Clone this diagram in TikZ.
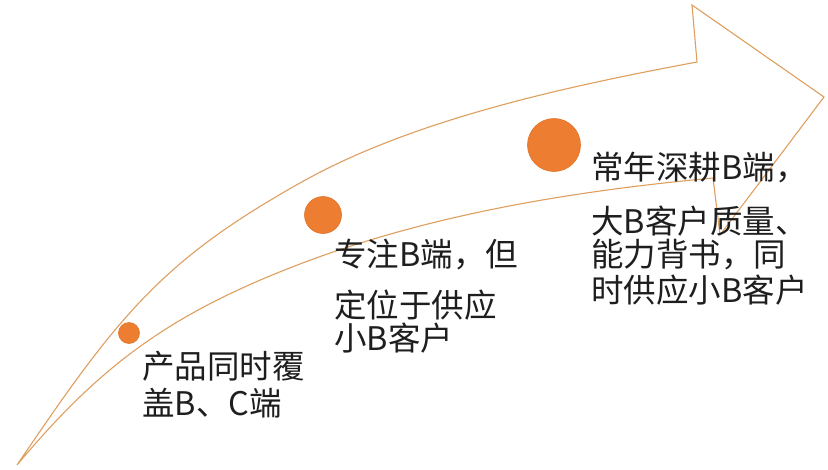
\documentclass[tikz,border=0pt]{standalone}
\usepackage{fontspec}
\newfontfamily\cjk{Noto Sans CJK SC}
\definecolor{arrowline}{HTML}{DE9E5E}
\definecolor{dot}{HTML}{ED7D31}
\definecolor{dotedge}{HTML}{E07428}
\definecolor{txt}{HTML}{1E1E1E}
\tikzset{
  outline/.style={draw=arrowline, line width=1.1pt, line join=miter},
  dotnode/.style={circle, fill=dot, draw=dotedge, line width=0.6pt, inner sep=0pt},
  label/.style={anchor=west, inner sep=0pt, text=txt, font=\cjk\fontsize{32.5}{32.5}\selectfont}
}
\begin{document}
\begin{tikzpicture}[x=1pt, y=-1pt]
\useasboundingbox (0,0) rectangle (828,469);
% curved arrow outline
\coordinate (tail) at (17,465);
\coordinate (um) at (300,183);
\coordinate (un) at (697,62);
\coordinate (ht) at (692,5);
\coordinate (tip) at (824,97);
\coordinate (hb) at (720,235);
\coordinate (ln) at (713,178);
\coordinate (lm) at (300,264);
\draw[outline]
  (tail) .. controls (118,316) and (161,261) .. (um)
         .. controls (413,119) and (569,86) .. (un)
  -- (ht) -- (tip) -- (hb) -- (ln)
         .. controls (574,191) and (431,214) .. (lm)
         .. controls (169,314) and (100,366) .. (tail)
  -- cycle;
% dots
\node[dotnode, minimum size=21pt] (c1) at (129,333) {};
\node[dotnode, minimum size=37pt] (c2) at (323,215) {};
\node[dotnode, minimum size=53pt] (c3) at (554,145) {};
% texts
\node[label] (t1a) at (142,366) {产品同时覆};
\node[label] (t1b) at (142,403) {盖B、C端};
\node[label] (t2a) at (334,255) {专注B端，但};
\node[label] (t2b) at (334,305) {定位于供应};
\node[label] (t2c) at (334,338) {小B客户};
\node[label] (t3a) at (591,168) {常年深耕B端，};
\node[label] (t3b) at (591,221) {大B客户质量、};
\node[label] (t3c) at (591,255) {能力背书，同};
\node[label] (t3d) at (591,290) {时供应小B客户};
\end{tikzpicture}
\end{document}
